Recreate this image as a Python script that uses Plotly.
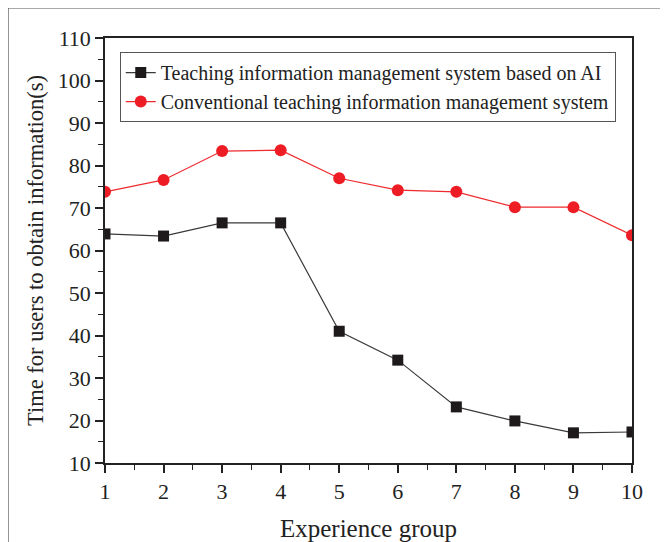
import plotly.graph_objects as go

groups = [1, 2, 3, 4, 5, 6, 7, 8, 9, 10]
ai_times = [63.9, 63.4, 66.5, 66.5, 41.0, 34.2, 23.2, 19.9, 17.1, 17.3]
conv_times = [73.8, 76.6, 83.4, 83.6, 77.0, 74.2, 73.8, 70.2, 70.2, 63.6]
x_ticks = [1, 2, 3, 4, 5, 6, 7, 8, 9, 10]
y_ticks = [10, 20, 30, 40, 50, 60, 70, 80, 90, 100, 110]

FONT = "Liberation Serif, Times New Roman, serif"

fig = go.Figure()
fig.add_trace(go.Scatter(
    x=groups, y=ai_times, mode="lines+markers",
    name="Teaching information management system based on AI",
    line=dict(color="#3a3a3a", width=1.2),
    marker=dict(symbol="square", size=11, color="#1e1a1b"),
))
fig.add_trace(go.Scatter(
    x=groups, y=conv_times, mode="lines+markers",
    name="Conventional teaching information management system",
    line=dict(color="#ee2a2e", width=1.2),
    marker=dict(symbol="circle", size=12, color="#ee1c24"),
))

axis_common = dict(
    showgrid=False, zeroline=False, showline=True, linecolor="#222",
    linewidth=1.5, mirror=True, ticks="outside", ticklen=8, tickwidth=1.5,
    tickcolor="#222", tickfont=dict(family=FONT, size=22, color="#222"),
    automargin=False,
)

fig.update_xaxes(
    range=[1, 10], tickvals=x_ticks,
    title=dict(text="Experience group", font=dict(family=FONT, size=25, color="#222"), standoff=20),
    minor=dict(dtick=0.5, ticks="outside", ticklen=5, tickwidth=1.2, tickcolor="#222"),
    **axis_common,
)
fig.update_yaxes(
    range=[10, 110], tickvals=y_ticks,
    title=dict(text="Time for users to obtain information(s)", font=dict(family=FONT, size=22.5, color="#222"), standoff=8),
    minor=dict(dtick=5, ticks="outside", ticklen=5, tickwidth=1.2, tickcolor="#222"),
    **axis_common,
)

fig.add_shape(type="rect", xref="paper", yref="paper",
              x0=-0.184, x1=1.0626, y0=-0.3, y1=1.0706,
              line=dict(color="#555", width=1.2), fillcolor="rgba(0,0,0,0)", layer="below")

fig.update_layout(
    width=660, height=534,
    margin=dict(l=97, r=36, t=30, b=79),
    paper_bgcolor="white", plot_bgcolor="white",
    font=dict(family=FONT, color="#222"),
    legend=dict(x=0.028, y=0.967, xanchor="left", yanchor="top",
                bordercolor="#555", borderwidth=1, bgcolor="white",
                font=dict(family=FONT, size=20, color="#222"),
                tracegroupgap=0, itemwidth=30),
    showlegend=True,
)

fig.write_html("out.html")
